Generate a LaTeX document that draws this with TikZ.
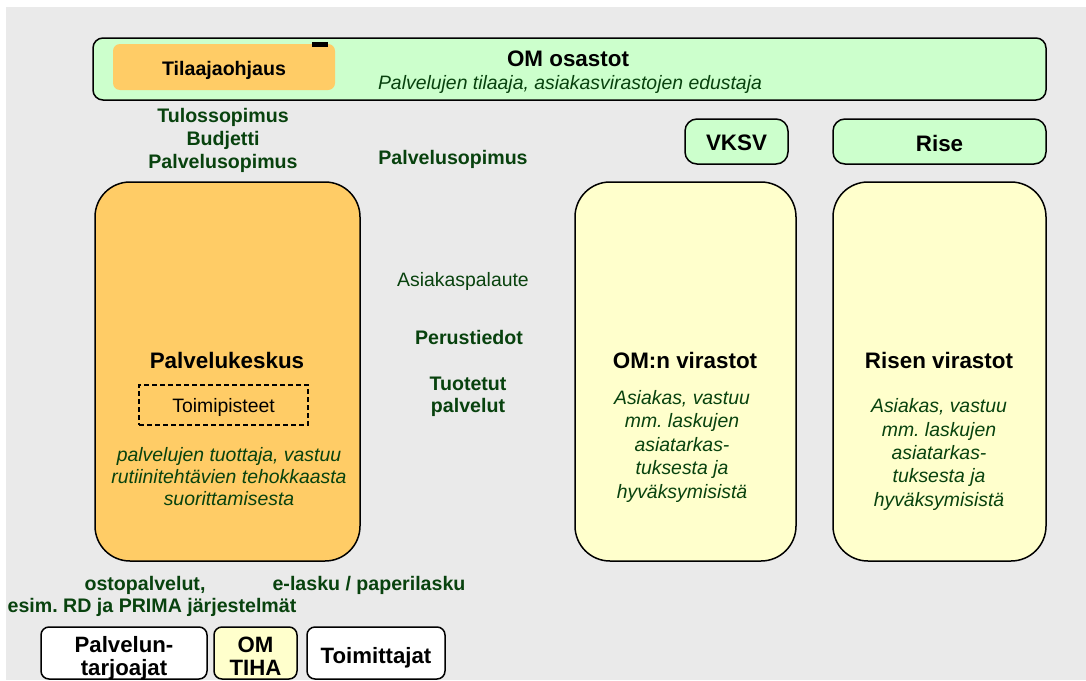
\documentclass[tikz,border=0pt]{standalone}
\usepackage{fontspec}
\setmainfont{Liberation Sans}
\frenchspacing
\definecolor{bggray}{HTML}{EAEAEA}
\definecolor{mint}{HTML}{CCFFCC}
\definecolor{apricot}{HTML}{FFCC66}
\definecolor{cream}{HTML}{FFFFCC}
\definecolor{dkgreen}{RGB}{8,66,14}
\begin{document}
\begin{tikzpicture}[x=1pt,y=-1pt,
  box/.style={draw=black, line width=1.5pt, inner sep=0pt, rectangle},
  bigbox/.style={box, rounded corners=35pt, minimum height=379pt},
  smallbox/.style={box, rounded corners=8pt, minimum height=52pt},
  txt/.style={inner sep=0pt, align=center},
  lbl/.style={txt, font=\fontsize{19.4}{23}\selectfont, text=dkgreen},
  lblb/.style={lbl, font=\fontsize{19.6}{23}\selectfont\bfseries},
  ital/.style={txt, text=dkgreen, font=\fontsize{19.4}{23.5}\selectfont\itshape},
  ttl/.style={txt, font=\fontsize{22.4}{24}\selectfont\bfseries},
  btxt/.style={txt, font=\fontsize{19.6}{23}\selectfont\bfseries},
  suptxt/.style={txt, font=\fontsize{22.2}{23}\selectfont\bfseries}]
\useasboundingbox (0,0) rectangle (1086,680);
\fill[bggray] (6,7) rectangle (1086,680);

% top band: ordering departments
\node[box, fill=mint, rounded corners=10pt, minimum width=953pt, minimum height=62pt] (om) at (569.5,69) {};
\node[fill=apricot, rounded corners=7pt, inner sep=0pt, minimum width=222pt, minimum height=46pt] (tila) at (224,67) {};
\node[btxt] (tilatxt) at (224,70) {Tilaajaohjaus};
\node[fill=black, inner sep=0pt, minimum width=16pt, minimum height=5pt] (tab) at (320,44.5) {};
\node[ttl] (omtxt) at (568,59) {OM osastot};
\node[ital] (omsub) at (570,84) {Palvelujen tilaaja, asiakasvirastojen edustaja};

% contract labels
\node[lblb] (sopimus) at (223,140) {Tulossopimus\\Budjetti\\Palvelusopimus};
\node[lblb] (palsop) at (453,159) {Palvelusopimus};

% customer headers
\node[box, fill=mint, rounded corners=12pt, minimum width=103pt, minimum height=45pt] (vksv) at (736.5,141.5) {};
\node[ttl] (vksvtxt) at (736.5,143) {VKSV};
\node[box, fill=mint, rounded corners=12pt, minimum width=213pt, minimum height=45pt] (rise) at (939.5,141.5) {};
\node[ttl] (risetxt) at (939.5,143) {Rise};

% service centre
\node[bigbox, fill=apricot, minimum width=265pt] (pk) at (227.5,371.5) {};
\node[ttl] (pktxt) at (227,360) {Palvelukeskus};
\node[draw=black, line width=2pt, dash pattern=on 5pt off 3pt, inner sep=0pt, minimum width=169pt, minimum height=40pt] (toimi) at (223.5,405) {};
\node[txt, font=\fontsize{19.4}{23}\selectfont] (toimitxt) at (223.5,407) {Toimipisteet};
\node[ital, font=\fontsize{19.4}{22}\selectfont\itshape] (pksub) at (229,477) {palvelujen tuottaja, vastuu\\rutiinitehtävien tehokkaasta\\suorittamisesta};

% customer agencies
\node[bigbox, fill=cream, minimum width=221pt] (omv) at (685.5,371.5) {};
\node[ttl] (omvtxt) at (685,360) {OM:n virastot};
\node[ital] (omvsub) at (682,446) {Asiakas, vastuu\\mm. laskujen\\asiatarkas-\\tuksesta ja\\hyväksymisistä};
\node[bigbox, fill=cream, minimum width=213pt] (risev) at (939.5,371.5) {};
\node[ttl] (risevtxt) at (939,360) {Risen virastot};
\node[ital, font=\fontsize{19.4}{23.3}\selectfont\itshape] (risevsub) at (939,454.5) {Asiakas, vastuu\\mm. laskujen\\asiatarkas-\\tuksesta ja\\hyväksymisistä};

% flow labels between the columns
\node[lbl] (palaute) at (463,281) {Asiakaspalaute};
\node[lblb] (perus) at (469,337) {Perustiedot};
\node[lblb, font=\fontsize{19.6}{22}\selectfont\bfseries] (tuot) at (468,397) {Tuotetut\\palvelut};

% bottom labels
\node[lblb] (osto) at (145,585) {ostopalvelut,};
\node[lblb] (esim) at (152,607) {esim. RD ja PRIMA järjestelmät};
\node[lblb] (elasku) at (369,585) {e-lasku / paperilasku};

% suppliers
\node[smallbox, fill=white, minimum width=166pt] (ptarj) at (124,653) {};
\node[suptxt] (ptarjtxt) at (124,658) {Palvelun-\\tarjoajat};
\node[smallbox, fill=cream, minimum width=83pt] (tiha) at (255.5,653) {};
\node[suptxt] (tihatxt) at (255.5,656) {OM\\TIHA};
\node[smallbox, fill=white, minimum width=138pt] (toimitt) at (376,653) {};
\node[suptxt] (toimitttxt) at (376,658) {Toimittajat};
\end{tikzpicture}
\end{document}
